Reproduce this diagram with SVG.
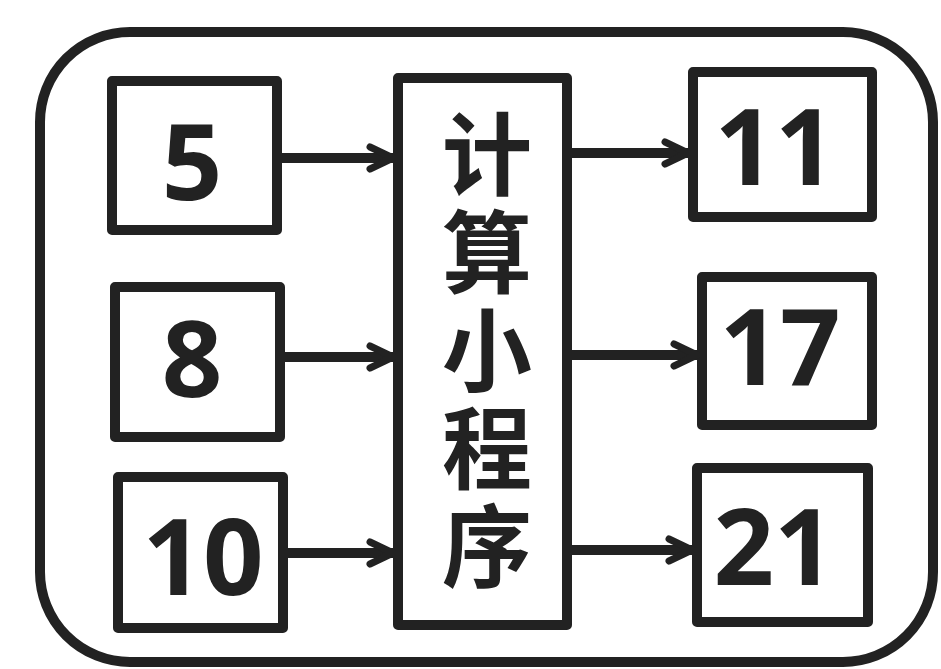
<svg xmlns="http://www.w3.org/2000/svg" width="941" height="669" viewBox="0 0 941 669">
<style>
.box{fill:none;stroke:#222;stroke-width:10;stroke-linejoin:round}
.num{font-family:"Open Sans","Liberation Sans",sans-serif;font-weight:bold;font-size:106px;fill:#222;text-anchor:middle}
.cjk{font-family:"Noto Sans CJK SC",sans-serif;font-weight:bold;font-size:90px;fill:#222;text-anchor:middle;writing-mode:vertical-rl;letter-spacing:8px}
.edge{fill:none;stroke:#222;stroke-width:10;marker-end:url(#ah)}
</style>
<defs>
<marker id="ah" viewBox="0 0 30 30" refX="27" refY="15" markerWidth="30" markerHeight="30" markerUnits="userSpaceOnUse" orient="auto">
<path d="M4,4 L27,15 L4,26" fill="none" stroke="#222" stroke-width="7" stroke-linejoin="round" stroke-linecap="round"/>
</marker>
</defs>
<rect width="941" height="669" fill="#fff"/>
<g id="frame"><rect x="40" y="32" width="893" height="630" rx="90" ry="90" class="box"/></g>
<g id="n5"><rect x="112" y="81" width="165" height="149" class="box"/><text x="192" y="200" class="num">5</text></g>
<g id="n8"><rect x="115" y="287" width="165" height="150" class="box"/><text x="192" y="397" class="num">8</text></g>
<g id="n10"><rect x="118" y="477" width="165" height="151" class="box"/><text x="203" y="595" class="num">10</text></g>
<g id="prog"><rect x="398" y="78" width="169" height="547" class="box"/>
<text x="487" y="354" class="cjk">计算小程序</text>
</g>
<g id="n11"><rect x="693" y="72" width="179" height="145" class="box"/><text x="775" y="185" class="num">11</text></g>
<g id="n17"><rect x="702" y="277" width="170" height="148" class="box"/><text x="780" y="385" class="num">17</text></g>
<g id="n21"><rect x="697" y="468" width="171" height="154" class="box"/><text x="774" y="585" class="num">21</text></g>
<g id="connectors">
<path d="M277,158 H393" class="edge"/>
<path d="M280,357 H393" class="edge"/>
<path d="M283,553 H393" class="edge"/>
<path d="M567,153 H688" class="edge"/>
<path d="M567,355 H697" class="edge"/>
<path d="M567,550 H692" class="edge"/>
</g>
</svg>
